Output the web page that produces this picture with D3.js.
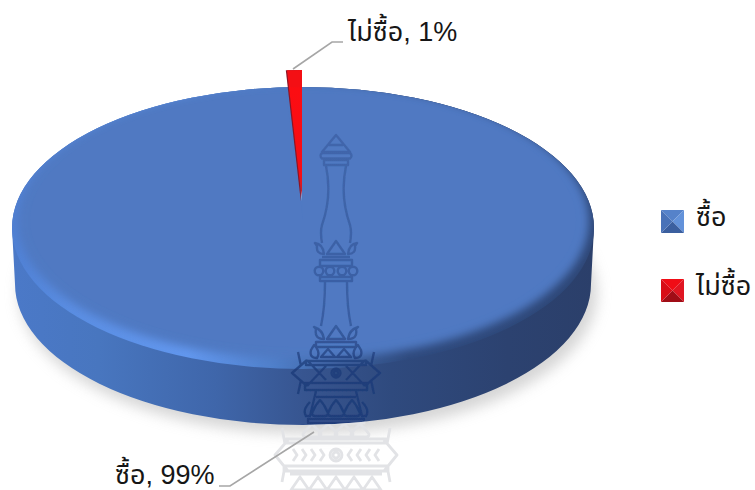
<!DOCTYPE html>
<html>
<head>
<meta charset="utf-8">
<script src="https://cdn.jsdelivr.net/npm/d3@7"></script>
<style>
html,body{margin:0;padding:0;background:#fff}
text{font-family:"Liberation Sans","Noto Sans Thai","Noto Sans",sans-serif;fill:#161616}
</style>
</head>
<body>
<script>
// Purchase share, 3D-styled pie
const categories = ['ซื้อ', 'ไม่ซื้อ'];
const values = [99, 1];

const W = 755, H = 490;
const svg = d3.select('body').append('svg').attr('width', W).attr('height', H).style('display', 'block');
const defs = svg.append('defs');

// Disc geometry
const cx = 303, cy = 228, rx = 291, ry = 141, depth = 56;

function blur(id, sd) {
  defs.append('filter').attr('id', id)
    .attr('x', '-20%').attr('y', '-20%').attr('width', '140%').attr('height', '140%')
    .append('feGaussianBlur').attr('stdDeviation', sd);
}
blur('soft', 4);
blur('shadow', 7);
blur('fine', 0.5);

function hGrad(id, stops, x1 = 12, x2 = 595) {
  const g = defs.append('linearGradient').attr('id', id)
    .attr('gradientUnits', 'userSpaceOnUse')
    .attr('x1', x1).attr('x2', x2).attr('y1', 0).attr('y2', 0);
  stops.forEach(([o, c]) => g.append('stop').attr('offset', o).attr('stop-color', c));
}
hGrad('sideFill', [[0, '#4b79c8'], [0.15, '#4876bf'], [0.35, '#3f66aa'], [0.5, '#375590'], [0.65, '#2f4a7e'], [0.85, '#2c4270'], [1, '#2b3f6a']]);
hGrad('rimFill', [[0, '#4f80d4'], [0.1, '#5a8de2'], [0.3, '#6297ee'], [0.45, '#4f7fca'], [0.56, '#3d629f'], [0.68, '#2f4a7e'], [1, '#2e4777']]);

const silhouette = `M${cx - rx},${cy} L${cx - rx + 3},${cy + depth} A${rx - 3},${ry} 0 0 0 ${cx + rx - 3},${cy + depth} L${cx + rx},${cy} A${rx},${ry} 0 0 0 ${cx - rx},${cy} Z`;
defs.append('clipPath').attr('id', 'discClip').append('path').attr('d', silhouette);
defs.append('clipPath').attr('id', 'outsideClip').append('path')
  .attr('clip-rule', 'evenodd')
  .attr('d', `M0,0H${W}V${H}H0Z ${silhouette}`);

// Soft shadow below the disc
svg.append('ellipse').attr('cx', cx + 5).attr('cy', cy + depth + 9).attr('rx', rx - 2).attr('ry', ry)
  .attr('fill', '#b4b4b4').attr('opacity', 0.55).attr('filter', 'url(#shadow)');

// Side wall
svg.append('path').attr('d', silhouette).attr('fill', 'url(#sideFill)');

const pie = d3.pie().sort(null).value(d => d);
const arcs = pie(values);
const arcGen = d3.arc().innerRadius(0).outerRadius(1);

// Bevelled rim, soft-edged face, then the larger slice's face
defs.append('clipPath').attr('id', 'topClip').append('ellipse')
  .attr('cx', cx).attr('cy', cy).attr('rx', rx).attr('ry', ry);
svg.append('ellipse').attr('cx', cx).attr('cy', cy).attr('rx', rx).attr('ry', ry).attr('fill', 'url(#rimFill)');
svg.append('g').attr('clip-path', 'url(#topClip)').append('ellipse')
  .attr('cx', cx).attr('cy', cy - 7).attr('rx', rx - 5).attr('ry', ry - 3)
  .attr('fill', '#5079c2').attr('filter', 'url(#soft)');
svg.append('path').attr('d', arcGen(arcs[0]))
  .attr('transform', `translate(${cx},${cy - 8}) scale(${rx - 18},${ry - 14})`)
  .attr('fill', '#5079c2');

// Exploded smaller slice
const tipX = 302, tipY = 201, sliceRy = 131, sliceRx = 238;
const redGrad = defs.append('linearGradient').attr('id', 'redFill').attr('x1', 0).attr('x2', 0).attr('y1', 0).attr('y2', 1);
[[0, '#f40f14'], [0.13, '#f40f14'], [0.135, '#fb0d12'], [0.8, '#f80d14'], [0.92, '#c8202c'], [0.97, '#a9c0e6'], [1, '#cfdcf2']]
  .forEach(([o, c]) => redGrad.append('stop').attr('offset', o).attr('stop-color', c));
svg.append('path').attr('d', arcGen(arcs[1])).attr('fill', '#8c1424')
  .attr('transform', `translate(${tipX - 1.2},${tipY}) scale(${sliceRx},${sliceRy})`);
svg.append('path').attr('d', arcGen(arcs[1]))
  .attr('transform', `translate(${tipX},${tipY}) scale(${sliceRx},${sliceRy})`)
  .attr('fill', 'url(#redFill)');

// University emblem watermark, built from mirrored tiers around its axis
const ex = 336;
function emblemPaths() {
  const p = [];
  const both = f => { p.push(f(1)); p.push(f(-1)); };
  const rect = (hw, y0, y1, r = 0) => p.push(`M${ex - hw + r},${y0}H${ex + hw - r}Q${ex + hw},${(y0 + y1) / 2} ${ex + hw - r},${y1}H${ex - hw + r}Q${ex - hw},${(y0 + y1) / 2} ${ex - hw + r},${y0}Z`);
  const tri = (x, hw, tip, base) => `M${x - hw},${base}L${x},${tip}L${x + hw},${base}Z`;
  const petal = (x, hw, tip, base) => `M${x - hw},${base - 3}Q${x - hw * 0.6},${tip + 5} ${x},${tip}Q${x + hw * 0.6},${tip + 5} ${x + hw},${base - 3}Q${x + hw},${base} ${x + hw - 3},${base}H${x - hw + 3}Q${x - hw},${base} ${x - hw},${base - 3}Z`;
  const circle = (x, y, r) => `M${x - r},${y}a${r},${r} 0 1 0 ${2 * r},0a${r},${r} 0 1 0 ${-2 * r},0Z`;

  // spire
  p.push(tri(ex, 14, 135, 152));
  p.push(`M${ex - 7},145H${ex + 7}`);
  rect(17, 153, 158.5, 3);
  rect(12, 160, 165);
  // upper column
  both(s => `M${ex + s * 10},166C${ex + s * 6},185 ${ex + s * 7},205 ${ex + s * 14},225Q${ex + s * 16},232 ${ex + s * 14},243`);
  // upper lotus
  p.push(tri(ex, 9, 241, 254));
  both(s => `M${ex + s * 12},254Q${ex + s * 20},254 ${ex + s * 19},246L${ex + s * 21},243Q${ex + s * 13},244 ${ex + s * 12},254Z`);
  p.push(`M${ex - 14},257H${ex + 14}`);
  rect(16, 260, 266);
  [-17, -6, 6, 17].forEach(x => p.push(circle(ex + x, 271, 4.3)));
  rect(16, 277, 281);
  // lower column
  both(s => `M${ex + s * 11},282C${ex + s * 11},300 ${ex + s * 12},312 ${ex + s * 15},326`);
  // second lotus
  p.push(tri(ex, 9, 326, 339));
  both(s => `M${ex + s * 12},339Q${ex + s * 22},339 ${ex + s * 20},329L${ex + s * 22},327Q${ex + s * 13},330 ${ex + s * 12},339Z`);
  rect(20, 342, 347);
  [-8, 8].forEach(x => p.push(tri(ex + x, 7, 349, 357)));
  both(s => `M${ex + s * 19},358Q${ex + s * 27},358 ${ex + s * 25},350L${ex + s * 22},345Q${ex + s * 15},352 ${ex + s * 19},358Z`);
  // first winged band
  rect(30, 361, 365);
  both(s => `M${ex + s * 29},360L${ex + s * 44},373L${ex + s * 29},386M${ex + s * 29},360L${ex + s * 10},380M${ex + s * 29},386L${ex + s * 10},366M${ex + s * 38},352L${ex + s * 35},366M${ex + s * 38},394L${ex + s * 35},380`);
  p.push(circle(ex, 373, 4.5));
  p.push(circle(ex, 373, 2));
  rect(31, 383, 390);
  both(s => `M${ex + s * 20},391L${ex + s * 26},416`);
  p.push(`M${ex - 20},397H${ex + 20}`);
  // third lotus row
  [-16, 0, 16].forEach(x => p.push(petal(ex + x, 8, 400, 416)));
  both(s => `M${ex + s * 26},402Q${ex + s * 34},410 ${ex + s * 30},416H${ex + s * 25}`);
  rect(28, 419, 423);
  // grey tier below the disc
  [-24, -8, 8, 24].forEach(x => p.push(petal(ex + x, 9, 424, 437)));
  rect(50, 439, 443);
  both(s => `M${ex + s * 48},440L${ex + s * 61},455L${ex + s * 48},471M${ex + s * 54},428L${ex + s * 51},444M${ex + s * 54},482L${ex + s * 51},466`);
  [12, 21, 30, 39].forEach(x => both(s => `M${ex + s * (x + 4)},449L${ex + s * x},455L${ex + s * (x + 4)},461`));
  p.push(circle(ex, 455, 6));
  p.push(circle(ex, 455, 3));
  rect(52, 466, 471);
  p.push(`M${ex - 46},474H${ex + 46}`);
  [-36, -18, 0, 18, 36].forEach(x => p.push(tri(ex + x, 9, 477, 490)));
  return p.join('');
}
const emblem = emblemPaths();
// The emblem reads stronger where it crosses the dark side wall
const inkGrad = defs.append('linearGradient').attr('id', 'emblemInk')
  .attr('gradientUnits', 'userSpaceOnUse').attr('x1', 0).attr('x2', 0).attr('y1', 130).attr('y2', 425);
[[0, 0.3], [0.65, 0.42], [0.8, 0.75], [1, 0.85]].forEach(([o, a]) =>
  inkGrad.append('stop').attr('offset', o).attr('stop-color', '#1c3a78').attr('stop-opacity', a));
svg.append('path').attr('d', emblem).attr('fill', 'none').attr('stroke', 'url(#emblemInk)').attr('stroke-width', 2.4)
  .attr('stroke-linejoin', 'round').attr('clip-path', 'url(#discClip)').attr('filter', 'url(#fine)');
svg.append('path').attr('d', emblem).attr('fill', 'none').attr('stroke', '#e2e3e6').attr('stroke-width', 2.8)
  .attr('stroke-linejoin', 'round').attr('clip-path', 'url(#outsideClip)').attr('filter', 'url(#fine)');

// Leader lines and data labels
const leader = d3.line();
const leaders = [[[219, 486], [230, 486], [314, 432]], [[293, 69], [332, 42], [343, 42]]];
svg.selectAll('.leader').data(leaders).join('path').attr('class', 'leader')
  .attr('d', d => leader(d)).attr('fill', 'none').attr('stroke', '#a6a6a6').attr('stroke-width', 1.6);

const labelPos = [[115, 484], [348, 41]];
svg.selectAll('.dlabel').data(categories).join('text').attr('class', 'dlabel')
  .attr('x', (d, i) => labelPos[i][0]).attr('y', (d, i) => labelPos[i][1])
  .attr('font-size', 27).text((d, i) => `${d}, ${values[i]}%`);

// Legend with pyramid-bevelled swatches
const swatch = 23, legendX = 661, legendY = d3.scaleOrdinal().domain(categories).range([210, 279]);
const shades = [
  ['#5482ca', '#6392da', '#3a5f9f', '#4a72b8'],
  ['#f01018', '#e01820', '#a01018', '#d81018']
];
categories.forEach((c, i) => {
  const g = svg.append('g').attr('transform', `translate(${legendX},${legendY(c)})`).attr('filter', 'url(#fine)');
  const m = swatch / 2, s = swatch;
  [[[0, 0], [s, 0], [m, m]], [[s, 0], [s, s], [m, m]], [[0, s], [s, s], [m, m]], [[0, 0], [0, s], [m, m]]]
    .forEach((tri, k) => g.append('path').attr('d', d3.line()(tri) + 'Z').attr('fill', shades[i][k]));
  svg.append('text').attr('x', legendX + 35).attr('y', legendY(c) + 15.5).attr('font-size', 27).text(c);
});
</script>
</body>
</html>
